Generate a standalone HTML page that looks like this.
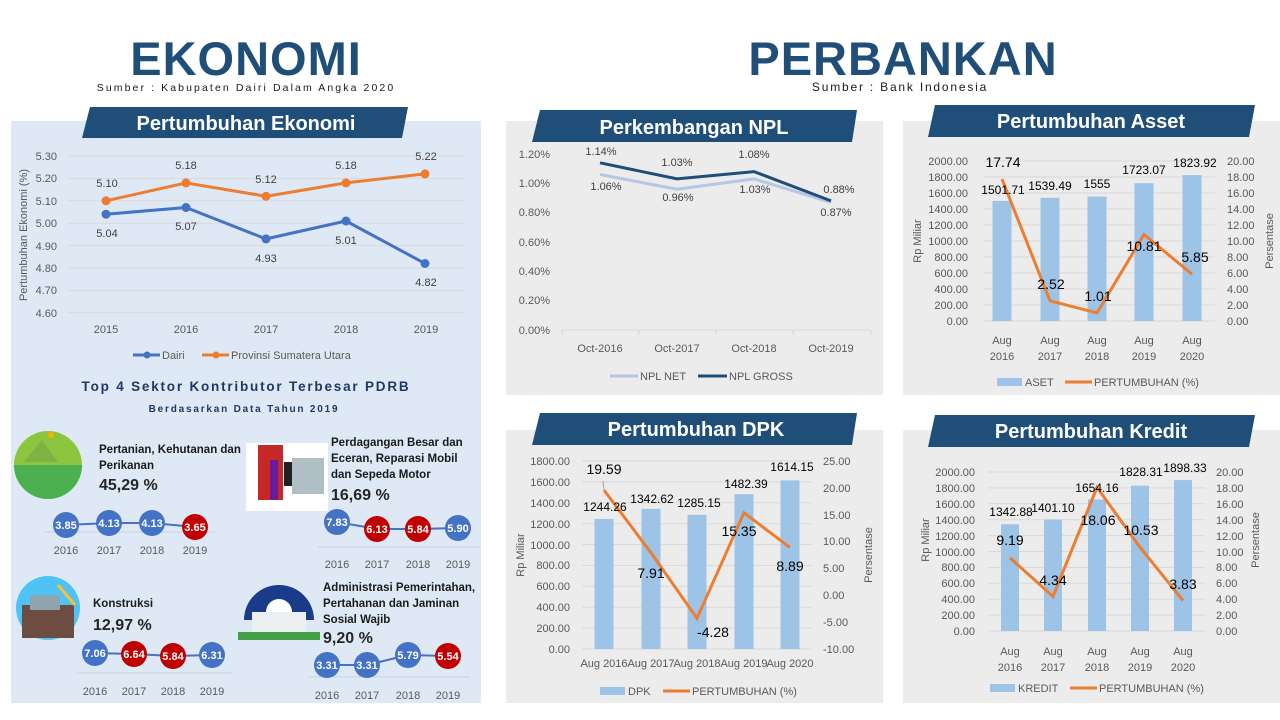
<!DOCTYPE html>
<html><head><meta charset="utf-8"><style>
html,body{margin:0;padding:0;background:#fff;}
svg{display:block;font-family:"Liberation Sans",sans-serif;}
.ax{font-size:11px;fill:#595959;}
.dl{font-size:11px;fill:#404040;}
.bl{font-size:12px;fill:#000;}
.ll{font-size:14px;fill:#000;}
.grid{stroke:#d9d9d9;stroke-width:1;}
.bt{font-size:20px;font-weight:bold;fill:#fff;}
.st{font-size:11.5px;font-weight:bold;fill:#1a1a1a;}
.pc{font-size:16px;font-weight:bold;fill:#262626;}
.yr{font-size:11px;fill:#595959;}
.bb{font-size:11px;font-weight:bold;fill:#fff;}
</style></head><body>
<svg width="1280" height="720" viewBox="0 0 1280 720" xmlns="http://www.w3.org/2000/svg">
<rect width="1280" height="720" fill="#fff"/>
<!-- Headers -->
<text x="246" y="75" text-anchor="middle" font-size="47" font-weight="bold" fill="#1f4e79" letter-spacing="1">EKONOMI</text>
<text x="246" y="91" text-anchor="middle" font-size="10.5" letter-spacing="2.1" fill="#1a1a1a">Sumber : Kabupaten Dairi Dalam Angka 2020</text>
<text x="903" y="75" text-anchor="middle" font-size="47" font-weight="bold" fill="#1f4e79" letter-spacing="1">PERBANKAN</text>
<text x="900" y="91" text-anchor="middle" font-size="12" letter-spacing="1.8" fill="#1a1a1a">Sumber : Bank Indonesia</text>

<!-- Panels -->
<rect x="11" y="121" width="470" height="582" fill="#dfe9f5"/>
<rect x="506" y="121" width="377" height="274" fill="#ececec"/>
<rect x="903" y="121" width="377" height="274" fill="#ececec"/>
<rect x="506" y="430" width="377" height="273" fill="#ececec"/>
<rect x="903" y="430" width="377" height="273" fill="#ececec"/>

<!-- Banners -->
<polygon points="90,107 408,107 402,138 82,138" fill="#1f4e79"/>
<text x="246" y="130" text-anchor="middle" class="bt">Pertumbuhan Ekonomi</text>
<polygon points="540,110 857,110 852,142 532,142" fill="#1f4e79"/>
<text x="694" y="134" text-anchor="middle" class="bt">Perkembangan NPL</text>
<polygon points="935,105 1255,105 1249,137 928,137" fill="#1f4e79"/>
<text x="1091" y="128" text-anchor="middle" class="bt">Pertumbuhan Asset</text>
<polygon points="540,413 857,413 852,445 532,445" fill="#1f4e79"/>
<text x="696" y="436" text-anchor="middle" class="bt">Pertumbuhan DPK</text>
<polygon points="935,415 1255,415 1249,447 928,447" fill="#1f4e79"/>
<text x="1091" y="438" text-anchor="middle" class="bt">Pertumbuhan Kredit</text>

<!-- Left line chart -->
<g class="grid">
<line x1="68" x2="465" y1="156" y2="156"/><line x1="68" x2="465" y1="178.4" y2="178.4"/>
<line x1="68" x2="465" y1="200.8" y2="200.8"/><line x1="68" x2="465" y1="223.2" y2="223.2"/>
<line x1="68" x2="465" y1="245.6" y2="245.6"/><line x1="68" x2="465" y1="268" y2="268"/>
<line x1="68" x2="465" y1="290.4" y2="290.4"/><line x1="68" x2="465" y1="312.8" y2="312.8"/>
</g>
<g class="ax" text-anchor="end">
<text x="57" y="160">5.30</text><text x="57" y="182">5.20</text><text x="57" y="205">5.10</text>
<text x="57" y="227">5.00</text><text x="57" y="250">4.90</text><text x="57" y="272">4.80</text>
<text x="57" y="294">4.70</text><text x="57" y="317">4.60</text>
</g>
<text transform="translate(27,235) rotate(-90)" text-anchor="middle" class="ax" font-size="10.5">Pertumbuhan Ekonomi (%)</text>
<polyline points="106,200.8 186,182.9 266,196.3 346,182.9 425,173.9" fill="none" stroke="#ed7d31" stroke-width="3"/>
<polyline points="106,214.2 186,207.5 266,238.9 346,221 425,263.5" fill="none" stroke="#4472c4" stroke-width="3"/>
<g fill="#ed7d31"><circle cx="106" cy="200.8" r="4.5"/><circle cx="186" cy="182.9" r="4.5"/><circle cx="266" cy="196.3" r="4.5"/><circle cx="346" cy="182.9" r="4.5"/><circle cx="425" cy="173.9" r="4.5"/></g>
<g fill="#4472c4"><circle cx="106" cy="214.2" r="4.5"/><circle cx="186" cy="207.5" r="4.5"/><circle cx="266" cy="238.9" r="4.5"/><circle cx="346" cy="221" r="4.5"/><circle cx="425" cy="263.5" r="4.5"/></g>
<g class="dl" text-anchor="middle">
<text x="107" y="187">5.10</text><text x="186" y="169">5.18</text><text x="266" y="183">5.12</text><text x="346" y="169">5.18</text><text x="426" y="160">5.22</text>
<text x="107" y="237">5.04</text><text x="186" y="230">5.07</text><text x="266" y="262">4.93</text><text x="346" y="244">5.01</text><text x="426" y="286">4.82</text>
</g>
<g class="ax" text-anchor="middle">
<text x="106" y="333">2015</text><text x="186" y="333">2016</text><text x="266" y="333">2017</text><text x="346" y="333">2018</text><text x="426" y="333">2019</text>
</g>
<line x1="133" x2="160" y1="355" y2="355" stroke="#4472c4" stroke-width="3"/><circle cx="147" cy="355" r="3.5" fill="#4472c4"/>
<text x="162" y="359" class="ax" font-size="10.5">Dairi</text>
<line x1="202" x2="229" y1="355" y2="355" stroke="#ed7d31" stroke-width="3"/><circle cx="216" cy="355" r="3.5" fill="#ed7d31"/>
<text x="231" y="359" class="ax" font-size="10.5">Provinsi Sumatera Utara</text>

<text x="246" y="391" text-anchor="middle" font-size="13.5" font-weight="bold" letter-spacing="1.8" fill="#1f3864">Top 4 Sektor Kontributor Terbesar PDRB</text>
<text x="244" y="412" text-anchor="middle" font-size="10" font-weight="bold" letter-spacing="1.8" fill="#1f3864">Berdasarkan Data Tahun 2019</text>

<!-- Sector 1 -->
<circle cx="48" cy="465" r="34" fill="#8cc63f"/>
<path d="M14,465 a34,34 0 0 0 68,0 z" fill="#4caf50"/>
<polygon points="24,462 42,440 58,462" fill="#7cb342"/>
<circle cx="51" cy="435" r="3" fill="#f4b400"/>
<text class="st"><tspan x="99" y="453">Pertanian, Kehutanan dan</tspan><tspan x="99" y="469">Perikanan</tspan></text>
<text x="99" y="490" class="pc">45,29 %</text>
<line x1="45" x2="215" y1="532" y2="532" stroke="#c8d2dc"/>
<polyline points="66,525 109,523 152,523 195,527" fill="none" stroke="#4472c4" stroke-width="2"/>
<circle cx="66" cy="525" r="13" fill="#4472c4"/><circle cx="109" cy="523" r="13" fill="#4472c4"/><circle cx="152" cy="523" r="13" fill="#4472c4"/><circle cx="195" cy="527" r="13" fill="#c00000"/>
<g class="bb" text-anchor="middle"><text x="66" y="529">3.85</text><text x="109" y="527">4.13</text><text x="152" y="527">4.13</text><text x="195" y="531">3.65</text></g>
<g class="yr" text-anchor="middle"><text x="66" y="554">2016</text><text x="109" y="554">2017</text><text x="152" y="554">2018</text><text x="195" y="554">2019</text></g>

<!-- Sector 2 -->
<rect x="246" y="443" width="82" height="68" fill="#fff"/>
<rect x="258" y="445" width="25" height="55" fill="#c62828"/>
<rect x="292" y="458" width="32" height="36" fill="#b0bec5"/>
<rect x="270" y="460" width="8" height="40" fill="#6a1b9a"/>
<rect x="284" y="462" width="8" height="24" fill="#212121"/>
<text class="st"><tspan x="331" y="446">Perdagangan Besar dan</tspan><tspan x="331" y="462">Eceran, Reparasi Mobil</tspan><tspan x="331" y="478">dan Sepeda Motor</tspan></text>
<text x="331" y="500" class="pc">16,69 %</text>
<line x1="318" x2="480" y1="547" y2="547" stroke="#c8d2dc"/>
<polyline points="337,522 377,529 418,529 458,528" fill="none" stroke="#4472c4" stroke-width="2"/>
<circle cx="337" cy="522" r="13" fill="#4472c4"/><circle cx="377" cy="529" r="13" fill="#c00000"/><circle cx="418" cy="529" r="13" fill="#c00000"/><circle cx="458" cy="528" r="13" fill="#4472c4"/>
<g class="bb" text-anchor="middle"><text x="337" y="526">7.83</text><text x="377" y="533">6.13</text><text x="418" y="533">5.84</text><text x="458" y="532">5.90</text></g>
<g class="yr" text-anchor="middle"><text x="337" y="568">2016</text><text x="377" y="568">2017</text><text x="418" y="568">2018</text><text x="458" y="568">2019</text></g>

<!-- Sector 3 -->
<circle cx="48" cy="608" r="32" fill="#4fc3f7"/>
<rect x="22" y="605" width="52" height="33" fill="#6d4c41"/>
<rect x="30" y="595" width="30" height="15" fill="#90a4ae"/>
<line x1="58" y1="585" x2="75" y2="605" stroke="#fbc02d" stroke-width="3"/>
<text x="93" y="607" class="st">Konstruksi</text>
<text x="93" y="630" class="pc">12,97 %</text>
<line x1="76" x2="232" y1="673" y2="673" stroke="#c8d2dc"/>
<polyline points="95,653 134,654 173,656 212,655" fill="none" stroke="#4472c4" stroke-width="2"/>
<circle cx="95" cy="653" r="13" fill="#4472c4"/><circle cx="134" cy="654" r="13" fill="#c00000"/><circle cx="173" cy="656" r="13" fill="#c00000"/><circle cx="212" cy="655" r="13" fill="#4472c4"/>
<g class="bb" text-anchor="middle"><text x="95" y="657">7.06</text><text x="134" y="658">6.64</text><text x="173" y="660">5.84</text><text x="212" y="659">6.31</text></g>
<g class="yr" text-anchor="middle"><text x="95" y="695">2016</text><text x="134" y="695">2017</text><text x="173" y="695">2018</text><text x="212" y="695">2019</text></g>

<!-- Sector 4 -->
<path d="M244,620 a35,35 0 0 1 70,0 z" fill="#1a3a8a"/>
<rect x="252" y="612" width="54" height="22" fill="#eceff1"/>
<path d="M266,612 a13,13 0 0 1 26,0 z" fill="#fff"/>
<rect x="238" y="632" width="82" height="8" fill="#43a047"/>
<text class="st"><tspan x="323" y="591">Administrasi Pemerintahan,</tspan><tspan x="323" y="607">Pertahanan dan Jaminan</tspan><tspan x="323" y="623">Sosial Wajib</tspan></text>
<text x="323" y="643" class="pc">9,20 %</text>
<line x1="308" x2="470" y1="677" y2="677" stroke="#c8d2dc"/>
<polyline points="327,665 367,665 408,655 448,656" fill="none" stroke="#4472c4" stroke-width="2"/>
<circle cx="327" cy="665" r="13" fill="#4472c4"/><circle cx="367" cy="665" r="13" fill="#4472c4"/><circle cx="408" cy="655" r="13" fill="#4472c4"/><circle cx="448" cy="656" r="13" fill="#c00000"/>
<g class="bb" text-anchor="middle"><text x="327" y="669">3.31</text><text x="367" y="669">3.31</text><text x="408" y="659">5.79</text><text x="448" y="660">5.54</text></g>
<g class="yr" text-anchor="middle"><text x="327" y="699">2016</text><text x="367" y="699">2017</text><text x="408" y="699">2018</text><text x="448" y="699">2019</text></g>

<!-- NPL -->
<g class="ax" text-anchor="end">
<text x="550" y="158">1.20%</text><text x="550" y="187">1.00%</text><text x="550" y="216">0.80%</text>
<text x="550" y="246">0.60%</text><text x="550" y="275">0.40%</text><text x="550" y="304">0.20%</text><text x="550" y="334">0.00%</text>
</g>
<line x1="562" x2="871" y1="330" y2="330" stroke="#d9d9d9"/>
<g stroke="#d9d9d9"><line x1="562" x2="562" y1="330" y2="335"/><line x1="639" x2="639" y1="330" y2="335"/><line x1="716" x2="716" y1="330" y2="335"/><line x1="793" x2="793" y1="330" y2="335"/><line x1="871" x2="871" y1="330" y2="335"/></g>
<polyline points="600,174.5 677,189.2 754,178.9 831,202.4" fill="none" stroke="#b4c7e7" stroke-width="3"/>
<polyline points="600,162.8 677,178.9 754,171.6 831,200.9" fill="none" stroke="#1f4e79" stroke-width="3"/>
<g class="dl" text-anchor="middle">
<text x="601" y="155">1.14%</text><text x="677" y="166">1.03%</text><text x="754" y="158">1.08%</text><text x="839" y="193">0.88%</text>
<text x="606" y="190">1.06%</text><text x="678" y="201">0.96%</text><text x="755" y="193">1.03%</text><text x="836" y="216">0.87%</text>
</g>
<g class="ax" text-anchor="middle"><text x="600" y="352">Oct-2016</text><text x="677" y="352">Oct-2017</text><text x="754" y="352">Oct-2018</text><text x="831" y="352">Oct-2019</text></g>
<line x1="610" x2="638" y1="376" y2="376" stroke="#b4c7e7" stroke-width="3"/><text x="640" y="380" class="ax">NPL NET</text>
<line x1="698" x2="727" y1="376" y2="376" stroke="#1f4e79" stroke-width="3"/><text x="729" y="380" class="ax">NPL GROSS</text>

<!-- Asset -->
<g class="grid">
<line x1="983" x2="1215" y1="161" y2="161"/><line x1="983" x2="1215" y1="177" y2="177"/><line x1="983" x2="1215" y1="193" y2="193"/>
<line x1="983" x2="1215" y1="209" y2="209"/><line x1="983" x2="1215" y1="225" y2="225"/><line x1="983" x2="1215" y1="241" y2="241"/>
<line x1="983" x2="1215" y1="257" y2="257"/><line x1="983" x2="1215" y1="273" y2="273"/><line x1="983" x2="1215" y1="289" y2="289"/>
<line x1="983" x2="1215" y1="305" y2="305"/><line x1="983" x2="1215" y1="321" y2="321"/>
</g>
<g class="ax" text-anchor="end">
<text x="968" y="165">2000.00</text><text x="968" y="181">1800.00</text><text x="968" y="197">1600.00</text><text x="968" y="213">1400.00</text>
<text x="968" y="229">1200.00</text><text x="968" y="245">1000.00</text><text x="968" y="261">800.00</text><text x="968" y="277">600.00</text>
<text x="968" y="293">400.00</text><text x="968" y="309">200.00</text><text x="968" y="325">0.00</text>
</g>
<g class="ax">
<text x="1227" y="165">20.00</text><text x="1227" y="181">18.00</text><text x="1227" y="197">16.00</text><text x="1227" y="213">14.00</text>
<text x="1227" y="229">12.00</text><text x="1227" y="245">10.00</text><text x="1227" y="261">8.00</text><text x="1227" y="277">6.00</text>
<text x="1227" y="293">4.00</text><text x="1227" y="309">2.00</text><text x="1227" y="325">0.00</text>
</g>
<text transform="translate(921,241) rotate(-90)" text-anchor="middle" class="ax">Rp Miliar</text>
<text transform="translate(1273,241) rotate(-90)" text-anchor="middle" class="ax">Persentase</text>
<g fill="#9dc3e6">
<rect x="992.5" y="200.9" width="19" height="120.1"/><rect x="1040.5" y="197.8" width="19" height="123.2"/>
<rect x="1087.5" y="196.6" width="19" height="124.4"/><rect x="1134.5" y="183.2" width="19" height="137.8"/>
<rect x="1182.5" y="175.1" width="19" height="145.9"/>
</g>
<polyline points="1002,179.1 1050,300.8 1097,312.9 1144,234.5 1192,274.2" fill="none" stroke="#ed7d31" stroke-width="3"/>
<g class="bl" text-anchor="middle">
<text x="1003" y="194">1501.71</text><text x="1050" y="190">1539.49</text><text x="1097" y="188">1555</text><text x="1144" y="174">1723.07</text><text x="1195" y="167">1823.92</text>
</g>
<g class="ll" text-anchor="middle">
<text x="1003" y="167">17.74</text><text x="1051" y="289">2.52</text><text x="1098" y="301">1.01</text><text x="1144" y="251">10.81</text><text x="1195" y="262">5.85</text>
</g>
<g class="ax" text-anchor="middle">
<text x="1002" y="344">Aug</text><text x="1002" y="360">2016</text><text x="1050" y="344">Aug</text><text x="1050" y="360">2017</text>
<text x="1097" y="344">Aug</text><text x="1097" y="360">2018</text><text x="1144" y="344">Aug</text><text x="1144" y="360">2019</text>
<text x="1192" y="344">Aug</text><text x="1192" y="360">2020</text>
</g>
<rect x="997" y="378" width="25" height="8" fill="#9dc3e6"/><text x="1025" y="386" class="ax" font-size="10.5">ASET</text>
<line x1="1065" x2="1092" y1="382" y2="382" stroke="#ed7d31" stroke-width="3"/><text x="1094" y="386" class="ax" font-size="10.5">PERTUMBUHAN (%)</text>

<!-- DPK -->
<g class="grid">
<line x1="582" x2="812" y1="461" y2="461"/><line x1="582" x2="812" y1="481.9" y2="481.9"/><line x1="582" x2="812" y1="502.8" y2="502.8"/>
<line x1="582" x2="812" y1="523.7" y2="523.7"/><line x1="582" x2="812" y1="544.6" y2="544.6"/><line x1="582" x2="812" y1="565.4" y2="565.4"/>
<line x1="582" x2="812" y1="586.3" y2="586.3"/><line x1="582" x2="812" y1="607.2" y2="607.2"/><line x1="582" x2="812" y1="628.1" y2="628.1"/>
<line x1="582" x2="812" y1="649" y2="649"/>
</g>
<g class="ax" text-anchor="end">
<text x="570" y="465">1800.00</text><text x="570" y="486">1600.00</text><text x="570" y="507">1400.00</text><text x="570" y="528">1200.00</text>
<text x="570" y="549">1000.00</text><text x="570" y="569">800.00</text><text x="570" y="590">600.00</text><text x="570" y="611">400.00</text>
<text x="570" y="632">200.00</text><text x="570" y="653">0.00</text>
</g>
<g class="ax">
<text x="823" y="465">25.00</text><text x="823" y="492">20.00</text><text x="823" y="519">15.00</text><text x="823" y="545">10.00</text>
<text x="823" y="572">5.00</text><text x="823" y="599">0.00</text><text x="823" y="626">-5.00</text><text x="823" y="653">-10.00</text>
</g>
<text transform="translate(524,555) rotate(-90)" text-anchor="middle" class="ax">Rp Miliar</text>
<text transform="translate(872,555) rotate(-90)" text-anchor="middle" class="ax">Persentase</text>
<g fill="#9dc3e6">
<rect x="594.5" y="519" width="19" height="130"/><rect x="641.5" y="508.8" width="19" height="140.2"/>
<rect x="687.5" y="514.8" width="19" height="134.2"/><rect x="734.5" y="494.2" width="19" height="154.8"/>
<rect x="780.5" y="480.4" width="19" height="168.6"/>
</g>
<line x1="603" y1="481" x2="604" y2="490" stroke="#a6a6a6"/>
<polyline points="604,490.1 651,552.8 697,618.3 744,512.8 790,547.6" fill="none" stroke="#ed7d31" stroke-width="3"/>
<g class="bl" text-anchor="middle">
<text x="605" y="511">1244.26</text><text x="652" y="503">1342.62</text><text x="699" y="507">1285.15</text><text x="746" y="488">1482.39</text><text x="792" y="471">1614.15</text>
</g>
<g class="ll" text-anchor="middle">
<text x="604" y="474">19.59</text><text x="651" y="578">7.91</text><text x="713" y="637">-4.28</text><text x="739" y="536">15.35</text><text x="790" y="571">8.89</text>
</g>
<g class="ax" text-anchor="middle">
<text x="604" y="667">Aug 2016</text><text x="651" y="667">Aug 2017</text><text x="697" y="667">Aug 2018</text><text x="744" y="667">Aug 2019</text><text x="790" y="667">Aug 2020</text>
</g>
<rect x="600" y="687" width="25" height="8" fill="#9dc3e6"/><text x="628" y="695" class="ax" font-size="10.5">DPK</text>
<line x1="663" x2="690" y1="691" y2="691" stroke="#ed7d31" stroke-width="3"/><text x="692" y="695" class="ax" font-size="10.5">PERTUMBUHAN (%)</text>

<!-- Kredit -->
<g class="grid">
<line x1="988" x2="1205" y1="472" y2="472"/><line x1="988" x2="1205" y1="487.9" y2="487.9"/><line x1="988" x2="1205" y1="503.8" y2="503.8"/>
<line x1="988" x2="1205" y1="519.7" y2="519.7"/><line x1="988" x2="1205" y1="535.6" y2="535.6"/><line x1="988" x2="1205" y1="551.5" y2="551.5"/>
<line x1="988" x2="1205" y1="567.4" y2="567.4"/><line x1="988" x2="1205" y1="583.3" y2="583.3"/><line x1="988" x2="1205" y1="599.2" y2="599.2"/>
<line x1="988" x2="1205" y1="615.1" y2="615.1"/><line x1="988" x2="1205" y1="631" y2="631"/>
</g>
<g class="ax" text-anchor="end">
<text x="975" y="476">2000.00</text><text x="975" y="492">1800.00</text><text x="975" y="508">1600.00</text><text x="975" y="524">1400.00</text>
<text x="975" y="540">1200.00</text><text x="975" y="556">1000.00</text><text x="975" y="571">800.00</text><text x="975" y="587">600.00</text>
<text x="975" y="603">400.00</text><text x="975" y="619">200.00</text><text x="975" y="635">0.00</text>
</g>
<g class="ax">
<text x="1216" y="476">20.00</text><text x="1216" y="492">18.00</text><text x="1216" y="508">16.00</text><text x="1216" y="524">14.00</text>
<text x="1216" y="540">12.00</text><text x="1216" y="556">10.00</text><text x="1216" y="571">8.00</text><text x="1216" y="587">6.00</text>
<text x="1216" y="603">4.00</text><text x="1216" y="619">2.00</text><text x="1216" y="635">0.00</text>
</g>
<text transform="translate(929,540) rotate(-90)" text-anchor="middle" class="ax">Rp Miliar</text>
<text transform="translate(1259,540) rotate(-90)" text-anchor="middle" class="ax">Persentase</text>
<g fill="#9dc3e6">
<rect x="1001" y="524.2" width="18" height="106.8"/><rect x="1044" y="519.6" width="18" height="111.4"/>
<rect x="1088" y="499.5" width="18" height="131.5"/><rect x="1131" y="485.7" width="18" height="145.3"/>
<rect x="1174" y="480.1" width="18" height="150.9"/>
</g>
<polyline points="1010,557.9 1053,596.5 1097,487.4 1140,547.3 1183,600.6" fill="none" stroke="#ed7d31" stroke-width="3"/>
<g class="bl" text-anchor="middle">
<text x="1011" y="516">1342.88</text><text x="1053" y="512">1401.10</text><text x="1097" y="492">1654.16</text><text x="1141" y="476">1828.31</text><text x="1185" y="472">1898.33</text>
</g>
<g class="ll" text-anchor="middle">
<text x="1010" y="545">9.19</text><text x="1053" y="585">4.34</text><text x="1098" y="525">18.06</text><text x="1141" y="535">10.53</text><text x="1183" y="589">3.83</text>
</g>
<g class="ax" text-anchor="middle">
<text x="1010" y="655">Aug</text><text x="1010" y="671">2016</text><text x="1053" y="655">Aug</text><text x="1053" y="671">2017</text>
<text x="1097" y="655">Aug</text><text x="1097" y="671">2018</text><text x="1140" y="655">Aug</text><text x="1140" y="671">2019</text>
<text x="1183" y="655">Aug</text><text x="1183" y="671">2020</text>
</g>
<rect x="990" y="684" width="25" height="8" fill="#9dc3e6"/><text x="1018" y="692" class="ax" font-size="10.5">KREDIT</text>
<line x1="1070" x2="1097" y1="688" y2="688" stroke="#ed7d31" stroke-width="3"/><text x="1099" y="692" class="ax" font-size="10.5">PERTUMBUHAN (%)</text>
</svg>
</body></html>
